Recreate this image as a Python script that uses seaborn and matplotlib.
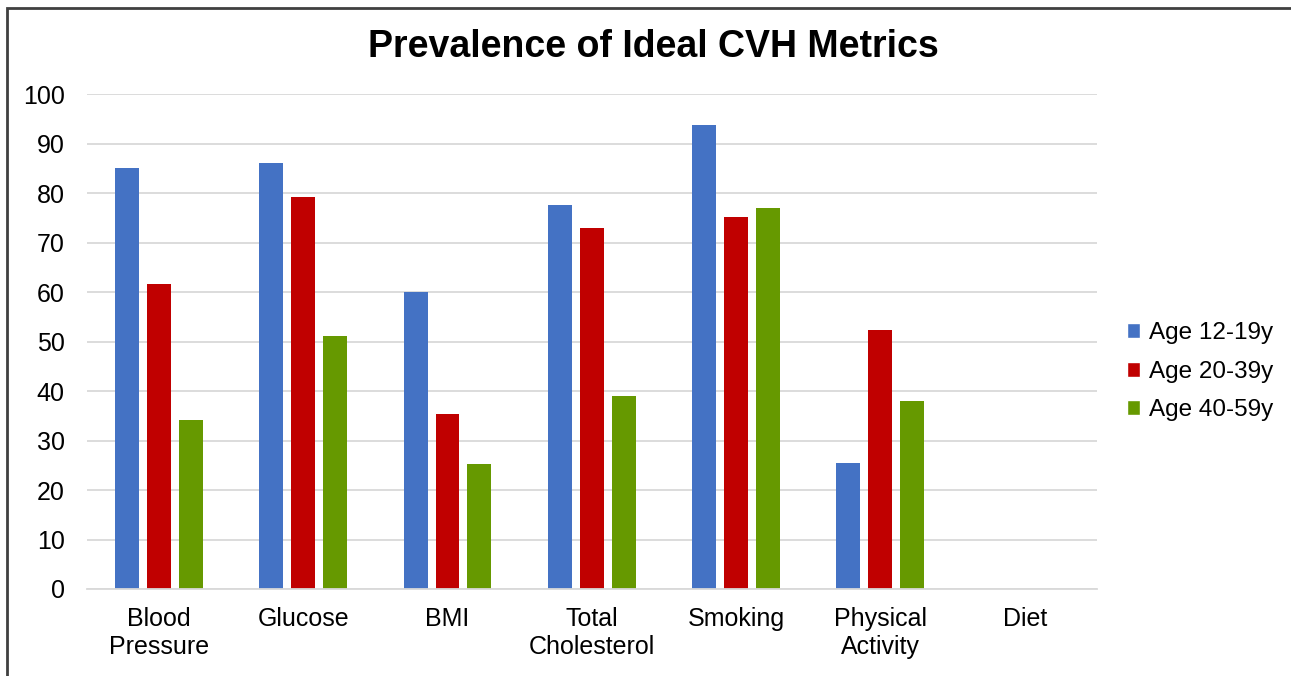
import matplotlib
matplotlib.use("Agg")
import matplotlib.pyplot as plt
from matplotlib.patches import Rectangle, Patch
import seaborn as sns
import pandas as pd

# Data
categories = ["Blood\nPressure", "Glucose", "BMI", "Total\nCholesterol",
              "Smoking", "Physical\nActivity", "Diet"]
age_groups = ["Age 12-19y", "Age 20-39y", "Age 40-59y"]
age_12_19 = [85.2, 86.2, 60.1, 77.7, 93.7, 25.4, 0]
age_20_39 = [61.7, 79.3, 35.3, 72.9, 75.1, 52.4, 0]
age_40_59 = [34.2, 51.2, 25.3, 39.1, 77.1, 38.0, 0]
colors = ["#4472C4", "#C00000", "#669900"]

rows = []
for group, vals in zip(age_groups, [age_12_19, age_20_39, age_40_59]):
    for cat, v in zip(categories, vals):
        rows.append({"metric": cat, "group": group, "value": v})
df = pd.DataFrame(rows)

sns.set_style("white")
plt.rcParams["font.family"] = ["Liberation Sans", "DejaVu Sans"]
plt.rcParams["text.color"] = "black"
plt.rcParams["xtick.color"] = "black"
plt.rcParams["ytick.color"] = "black"

fig = plt.figure(figsize=(12.91, 6.76), dpi=100)
ax = fig.add_axes([0.0672, 0.1287, 0.7824, 0.7318])

sns.barplot(data=df, x="metric", y="value", hue="group", order=categories,
            hue_order=age_groups, palette=colors, saturation=1, width=0.665,
            gap=0.25, linewidth=0, legend=False, ax=ax)

ax.set_ylim(0, 100)
ax.set_xlim(-0.5, len(categories) - 0.5)
ax.set_yticks(range(0, 101, 10))
ax.yaxis.grid(True, color="#d9d9d9", linewidth=1.3)
ax.set_axisbelow(True)
for side in ["top", "right", "left"]:
    ax.spines[side].set_visible(False)
ax.spines["bottom"].set_color("#d9d9d9")
ax.spines["bottom"].set_linewidth(1.3)
ax.tick_params(axis="y", length=0, pad=16, labelsize=18, labelcolor="black")
ax.tick_params(axis="x", length=0, pad=13, labelsize=18, labelcolor="black")
ax.set_xlabel("")
ax.set_ylabel("")

fig.text(0.506, 0.93, "Prevalence of Ideal CVH Metrics", ha="center", va="center",
         fontsize=27, fontweight="bold", color="black")

handles = [Patch(facecolor=c, label=g) for c, g in zip(colors, age_groups)]
fig.legend(handles=handles, loc="center left", bbox_to_anchor=(0.856, 0.45),
           frameon=False, fontsize=17.5, handlelength=0.55, handleheight=0.55,
           handletextpad=0.35, labelspacing=0.68)

# frame around the figure (cut off at the right and bottom)
fig.patches.append(Rectangle((7 / 1291, -0.05), 1.1, 0.05 + 1 - 8 / 676,
                             transform=fig.transFigure, fill=False,
                             edgecolor="#404040", linewidth=2))

fig.savefig("out.png", dpi=100)
